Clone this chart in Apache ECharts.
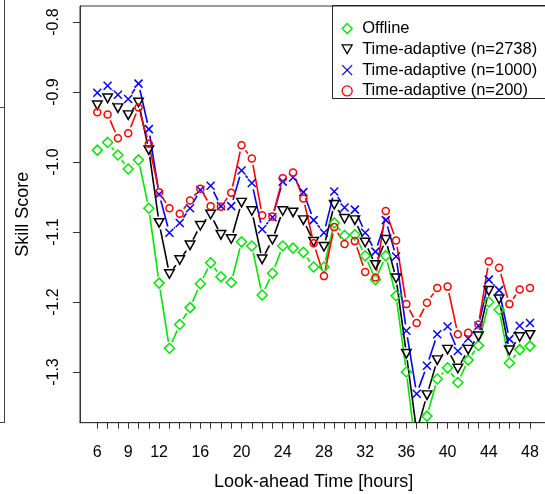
<!DOCTYPE html>
<html>
<head>
<meta charset="utf-8">
<script src="https://cdn.jsdelivr.net/npm/echarts@6/dist/echarts.min.js"></script>
<style>
html, body { margin: 0; padding: 0; background: #fff; }
#main { width: 545px; height: 494px; }
</style>
</head>
<body>
<div id="main"></div>
<script>
// look-ahead hours and skill scores
var hours = [6, 7, 8, 9, 10, 11, 12, 13, 14, 15, 16, 17, 18, 19, 20, 21, 22, 23, 24, 25, 26, 27,
  28, 29, 30, 31, 32, 33, 34, 35, 36, 37, 38, 39, 40, 41, 42, 43, 44, 45, 46, 47, 48];
var offline = [-0.983, -0.972, -0.990, -1.010, -0.997, -1.066, -1.173, -1.266, -1.232, -1.208, -1.174,
  -1.144, -1.164, -1.172, -1.114, -1.120, -1.190, -1.159, -1.120, -1.123, -1.129,
  -1.150, -1.150, -1.087, -1.105, -1.104, -1.134, -1.168, -1.134, -1.191, -1.300,
  -1.420, -1.363, -1.310, -1.294, -1.315, -1.283, -1.262, -1.200, -1.211, -1.287, -1.268, -1.263];
var adaptive2738 = [-0.919, -0.909, -0.923, -0.933, -0.915, -0.983, -1.087, -1.160, -1.140, -1.119, -1.091,
  -1.075, -1.104, -1.110, -1.058, -1.070, -1.139, -1.111, -1.070, -1.072, -1.083,
  -1.114, -1.121, -1.061, -1.081, -1.083, -1.115, -1.147, -1.111, -1.166, -1.274,
  -1.385, -1.333, -1.283, -1.268, -1.295, -1.268, -1.249, -1.184, -1.196, -1.269, -1.250, -1.247];
var adaptive1000 = [-0.901, -0.891, -0.904, -0.910, -0.888, -0.953, -1.046, -1.101, -1.087, -1.066, -1.040,
  -1.034, -1.063, -1.063, -1.012, -1.030, -1.096, -1.079, -1.028, -1.022, -1.043,
  -1.083, -1.101, -1.042, -1.065, -1.068, -1.101, -1.128, -1.083, -1.135, -1.241,
  -1.331, -1.291, -1.246, -1.235, -1.270, -1.252, -1.234, -1.168, -1.183, -1.253, -1.234, -1.230];
var adaptive200 = [-0.929, -0.932, -0.966, -0.959, -0.922, -0.974, -1.043, -1.066, -1.074, -1.055, -1.038,
  -1.063, -1.064, -1.044, -0.976, -0.995, -1.076, -1.078, -1.023, -1.015, -1.052,
  -1.116, -1.163, -1.093, -1.117, -1.113, -1.157, -1.165, -1.070, -1.112, -1.203,
  -1.230, -1.201, -1.180, -1.178, -1.246, -1.244, -1.232, -1.142, -1.151, -1.203, -1.182, -1.180];

var xTickLabels = [6, 9, 12, 16, 20, 24, 28, 32, 36, 40, 44, 48];
var yTicks = [-0.8, -0.9, -1.0, -1.1, -1.2, -1.3];

var FONT = 'Liberation Sans, Arial, sans-serif';
var GAP = 6.5;   // lines stop short of the points (R type="b")

var chart = echarts.init(document.getElementById('main'));

function pairs(vals) {
  return hours.map(function (h, i) { return [h, vals[i]]; });
}

// segments between consecutive points, shortened at both ends
function gappedLine(color) {
  return function (params, api) {
    var i = params.dataIndexInside;
    if (i === 0) return { type: 'group', children: [] };
    var p0 = api.coord([api.value(0, i - 1), api.value(1, i - 1)]);
    var p1 = api.coord([api.value(0, i), api.value(1, i)]);
    var dx = p1[0] - p0[0], dy = p1[1] - p0[1];
    var len = Math.sqrt(dx * dx + dy * dy);
    if (len <= 2 * GAP) return { type: 'group', children: [] };
    var ux = dx / len, uy = dy / len;
    return {
      type: 'line',
      shape: { x1: p0[0] + ux * GAP, y1: p0[1] + uy * GAP, x2: p1[0] - ux * GAP, y2: p1[1] - uy * GAP },
      style: { stroke: color, lineWidth: 1.6 }
    };
  };
}

var defs = [
  { name: 'Offline', vals: offline, color: '#00e600', symbol: 'diamond', size: [10, 10] },
  { name: 'Time-adaptive (n=2738)', vals: adaptive2738, color: '#000000', symbol: 'path://M0,0L10,0L5,8.7Z', size: [9.5, 8.5] },
  { name: 'Time-adaptive (n=1000)', vals: adaptive1000, color: '#0000ff', symbol: 'path://M0,0L10,10M0,10L10,0', size: [8, 8] },
  { name: 'Time-adaptive (n=200)', vals: adaptive200, color: '#ff0000', symbol: 'circle', size: [7, 7] }
];

var series = [];
defs.forEach(function (d) {
  series.push({
    name: d.name + ' line',
    type: 'custom',
    clip: true,
    data: pairs(d.vals),
    renderItem: gappedLine(d.color),
    z: 2,
    silent: true
  });
});
defs.forEach(function (d) {
  series.push({
    name: d.name,
    type: 'scatter',
    clip: true,
    data: pairs(d.vals),
    symbol: d.symbol,
    symbolSize: d.size,
    itemStyle: { color: 'rgba(0,0,0,0)', borderColor: d.color, borderWidth: 1.5, opacity: 1 },
    z: 3
  });
});

chart.setOption({
  animation: false,
  backgroundColor: '#fff',
  textStyle: { fontFamily: FONT },
  grid: {
    left: 80, top: 6, width: 467.3, height: 416.7,
    outerBoundsMode: 'none',
    show: true, borderColor: '#333', borderWidth: 1, backgroundColor: 'transparent'
  },
  legend: {
    orient: 'vertical',
    left: 341.5, top: 18.5,
    padding: 0,
    itemWidth: 10, itemHeight: 10,
    itemGap: 0.8,
    itemStyle: { color: 'rgba(0,0,0,0)', borderWidth: 1.3 },
    textStyle: { fontSize: 16.5, color: '#000', fontFamily: FONT, lineHeight: 20, padding: [0, 0, 0, 5] },
    data: defs.map(function (d) {
      return { name: d.name, icon: d.symbol, itemStyle: { color: 'rgba(0,0,0,0)', borderColor: d.color, borderWidth: 1.3 } };
    })
  },
  xAxis: {
    type: 'value',
    min: 4.32, max: 49.68,
    name: 'Look-ahead Time [hours]',
    nameLocation: 'middle',
    nameGap: 50,
    nameTextStyle: { fontSize: 18, color: '#000', fontFamily: FONT },
    axisLine: { show: true, lineStyle: { color: '#333', width: 1 } },
    axisTick: { show: true, customValues: hours, length: 6, inside: false, lineStyle: { color: '#333' } },
    axisLabel: { customValues: xTickLabels, margin: 22, fontSize: 16, color: '#000', fontFamily: FONT },
    splitLine: { show: false }
  },
  yAxis: {
    type: 'value',
    min: -1.3724, max: -0.7771,
    name: 'Skill Score',
    nameLocation: 'middle',
    nameGap: 48,
    nameTextStyle: { fontSize: 18, color: '#000', fontFamily: FONT },
    axisLine: { show: true, lineStyle: { color: '#333', width: 1 } },
    axisTick: { show: true, customValues: yTicks, length: 7, inside: false, lineStyle: { color: '#333' } },
    axisLabel: {
      customValues: yTicks, rotate: 90, margin: 18, fontSize: 16, color: '#000', fontFamily: FONT,
      formatter: function (v) { return v.toFixed(1); }
    },
    splitLine: { show: false }
  },
  graphic: [
    { type: 'rect', shape: { x: 332.5, y: 5.5, width: 230, height: 93 }, style: { fill: 'none', stroke: '#222', lineWidth: 1 }, z: 10 },
    { type: 'line', shape: { x1: 4.5, y1: 0, x2: 4.5, y2: 423 }, style: { stroke: '#444', lineWidth: 1 } },
    { type: 'line', shape: { x1: 0, y1: 107.5, x2: 4.5, y2: 107.5 }, style: { stroke: '#444', lineWidth: 1 } },
    { type: 'line', shape: { x1: 0, y1: 422.5, x2: 4.5, y2: 422.5 }, style: { stroke: '#444', lineWidth: 1 } }
  ],
  series: series
});
</script>
</body>
</html>
